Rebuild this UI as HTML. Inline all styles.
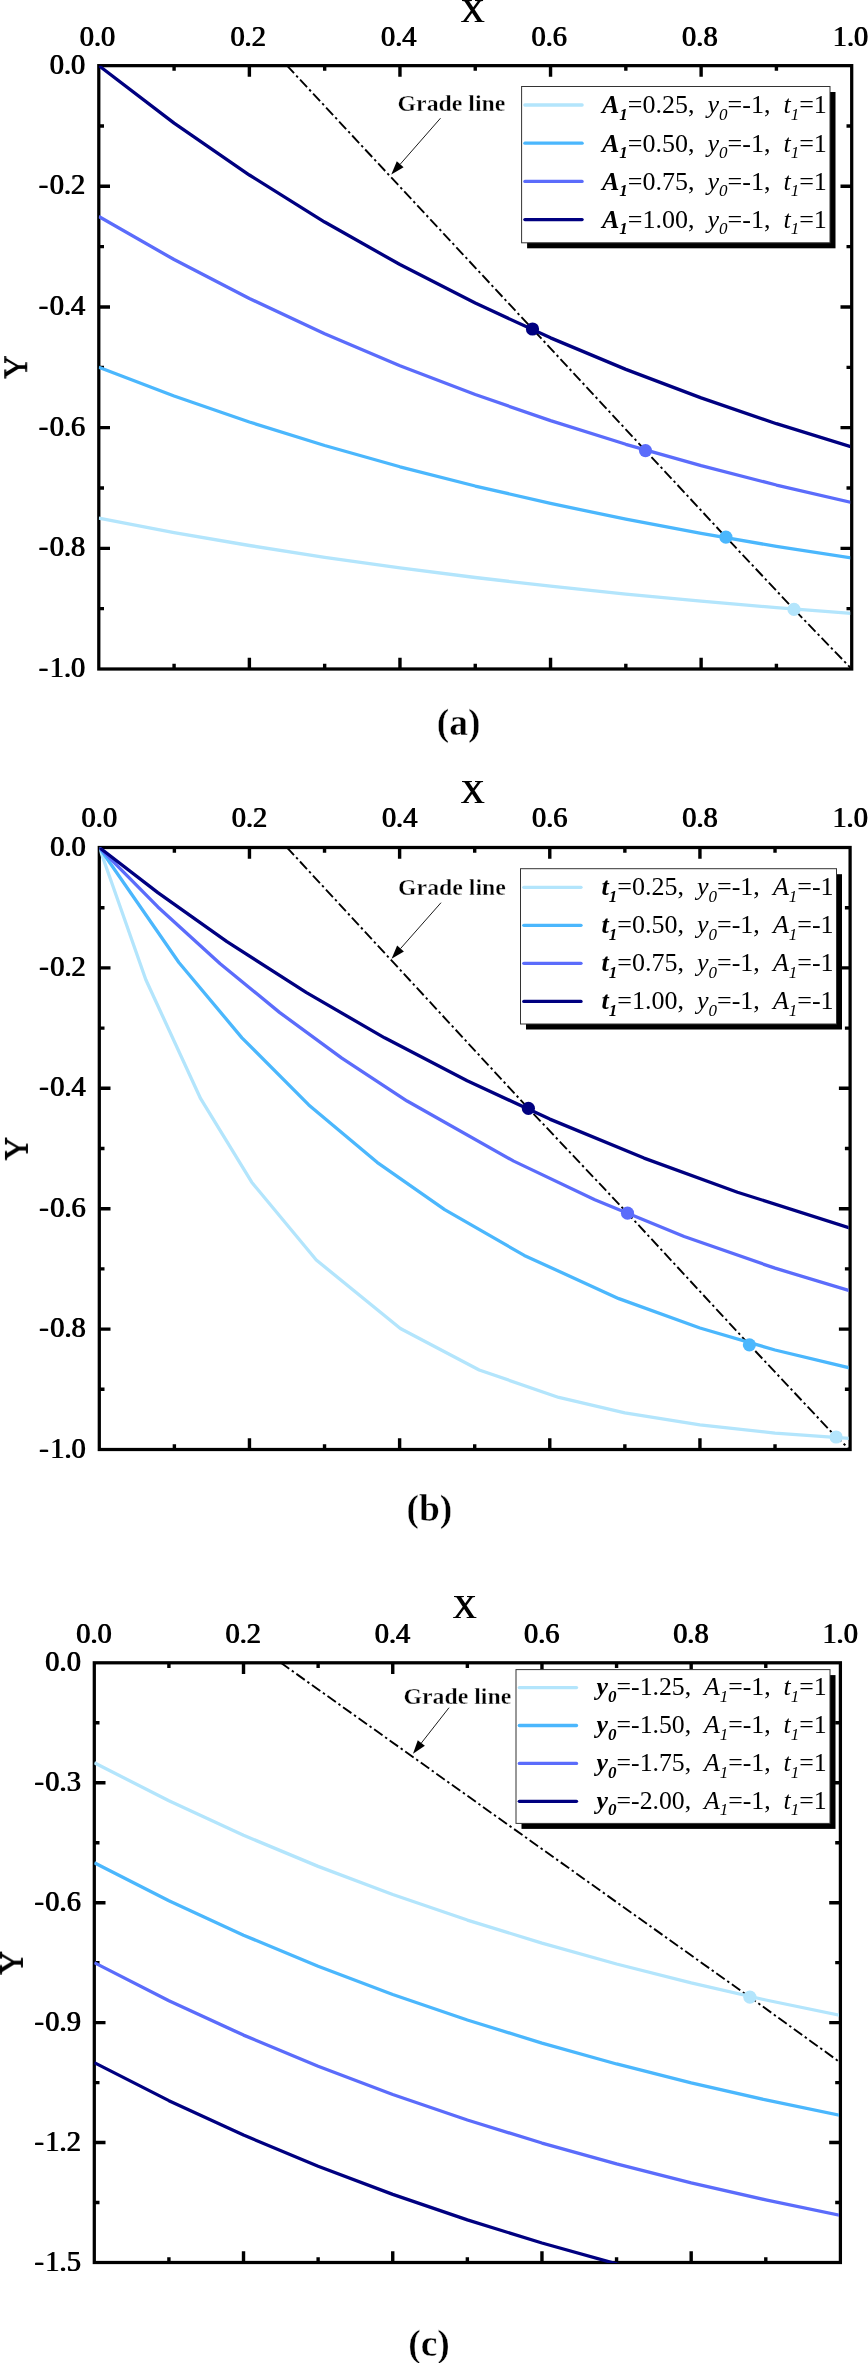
<!DOCTYPE html>
<html><head><meta charset="utf-8"><title>Figure</title>
<style>
html,body{margin:0;padding:0;background:#fff;}
svg{display:block;font-family:"Liberation Serif", "DejaVu Serif", serif;}
text{fill:#000;}
</style></head><body>
<svg width="868" height="2363" viewBox="0 0 868 2363">
<defs><filter id="fb" x="-2%" y="-2%" width="104%" height="104%"><feOffset dx="0.9" dy="0" result="o"/><feMerge><feMergeNode in="SourceGraphic"/><feMergeNode in="o"/></feMerge></filter></defs>
<rect width="868" height="2363" fill="#fff"/>
<g>
<clipPath id="clipa"><rect x="98.8" y="65.65" width="751.4" height="603.95"/></clipPath>
<path d="M287.03 65.65 L532.5 329 L645.5 450.6 L725.9 537.1 L794 609.4 L851.7 669" fill="none" stroke="#000" stroke-width="1.9" stroke-dasharray="10.3 3.2 2.4 3.2" clip-path="url(#clipa)"/>
<rect x="98.8" y="65.65" width="752.9" height="603.35" fill="none" stroke="#000" stroke-width="3.25"/>
<path d="M174.09 65.65v5.2M174.09 669v-5.2M249.38 65.65v11.2M249.38 669v-11.2M324.67 65.65v5.2M324.67 669v-5.2M399.96 65.65v11.2M399.96 669v-11.2M475.25 65.65v5.2M475.25 669v-5.2M550.54 65.65v11.2M550.54 669v-11.2M625.83 65.65v5.2M625.83 669v-5.2M701.12 65.65v11.2M701.12 669v-11.2M776.41 65.65v5.2M776.41 669v-5.2M98.8 125.99h5.2M851.7 125.99h-5.2M98.8 186.32h11.2M851.7 186.32h-11.2M98.8 246.66h5.2M851.7 246.66h-5.2M98.8 306.99h11.2M851.7 306.99h-11.2M98.8 367.33h5.2M851.7 367.33h-5.2M98.8 427.66h11.2M851.7 427.66h-11.2M98.8 488h5.2M851.7 488h-5.2M98.8 548.33h11.2M851.7 548.33h-11.2M98.8 608.66h5.2M851.7 608.66h-5.2" stroke="#000" stroke-width="3.4" fill="none"/>
<path d="M98.8 518.16 L174.09 532.52 L249.38 545.5 L324.67 557.26 L399.96 567.89 L475.25 577.51 L550.54 586.22 L625.83 594.1 L701.12 601.22 L776.41 607.67 L851.7 613.51" fill="none" stroke="#b3e5fc" stroke-width="3.3" stroke-linejoin="round" clip-path="url(#clipa)"/>
<path d="M98.8 367.33 L174.09 396.03 L249.38 422.01 L324.67 445.51 L399.96 466.78 L475.25 486.02 L550.54 503.44 L625.83 519.19 L701.12 533.45 L776.41 546.35 L851.7 558.02" fill="none" stroke="#4bb7fd" stroke-width="3.3" stroke-linejoin="round" clip-path="url(#clipa)"/>
<path d="M98.8 216.49 L174.09 259.55 L249.38 298.51 L324.67 333.77 L399.96 365.67 L475.25 394.54 L550.54 420.66 L625.83 444.29 L701.12 465.67 L776.41 485.02 L851.7 502.53" fill="none" stroke="#5b6cfb" stroke-width="3.3" stroke-linejoin="round" clip-path="url(#clipa)"/>
<path d="M98.8 65.65 L174.09 123.07 L249.38 175.02 L324.67 222.03 L399.96 264.56 L475.25 303.05 L550.54 337.87 L625.83 369.39 L701.12 397.9 L776.41 423.7 L851.7 447.04" fill="none" stroke="#000080" stroke-width="3.3" stroke-linejoin="round" clip-path="url(#clipa)"/>
<circle cx="794" cy="609.4" r="6.6" fill="#b3e5fc"/>
<circle cx="725.9" cy="537.1" r="6.6" fill="#4bb7fd"/>
<circle cx="645.5" cy="450.6" r="6.6" fill="#5b6cfb"/>
<circle cx="532.5" cy="329" r="6.6" fill="#000080"/>
<g filter="url(#fb)" transform="translate(-0.45 0)">
<text x="97.5" y="45.75" font-size="28.4"  text-anchor="middle">0.0</text>
<text x="248.08" y="45.75" font-size="28.4"  text-anchor="middle">0.2</text>
<text x="398.66" y="45.75" font-size="28.4"  text-anchor="middle">0.4</text>
<text x="549.24" y="45.75" font-size="28.4"  text-anchor="middle">0.6</text>
<text x="699.82" y="45.75" font-size="28.4"  text-anchor="middle">0.8</text>
<text x="850.4" y="45.75" font-size="28.4"  text-anchor="middle">1.0</text>
<text x="85.2" y="73.65" font-size="28.4"  text-anchor="end">0.0</text>
<text x="85.2" y="194.32" font-size="28.4"  text-anchor="end"><tspan letter-spacing="1.5">-</tspan>0.2</text>
<text x="85.2" y="314.99" font-size="28.4"  text-anchor="end"><tspan letter-spacing="1.5">-</tspan>0.4</text>
<text x="85.2" y="435.66" font-size="28.4"  text-anchor="end"><tspan letter-spacing="1.5">-</tspan>0.6</text>
<text x="85.2" y="556.33" font-size="28.4"  text-anchor="end"><tspan letter-spacing="1.5">-</tspan>0.8</text>
<text x="85.2" y="677" font-size="28.4"  text-anchor="end"><tspan letter-spacing="1.5">-</tspan>1.0</text>
<text x="472.5" y="21.7" font-size="33"  text-anchor="middle">X</text>
<text transform="translate(26.7 367) rotate(-90)" font-size="33"  text-anchor="middle">Y</text>
</g>
<text x="458.7" y="735.3" font-size="37.5" font-weight="bold" stroke="#fff" stroke-width="0.4" text-anchor="middle">(a)</text>
<text x="397.6" y="110.6" font-size="23.8" font-weight="bold" stroke="#fff" stroke-width="0.35">Grade line</text>
<line x1="440.5" y1="118.2" x2="400.19" y2="164.24" stroke="#000" stroke-width="0.9"/>
<polygon points="391.3,174.4 396.81,161.28 403.58,167.21" fill="#000"/>
<rect x="527.1" y="92" width="308.4" height="156.3" fill="#000"/>
<rect x="521.6" y="86.5" width="308.4" height="156.3" fill="#fff" stroke="#333" stroke-width="1"/>
<line x1="524.9" y1="105" x2="582.1" y2="105" stroke="#b3e5fc" stroke-width="3.3" stroke-linecap="round"/>
<line x1="524.9" y1="143.2" x2="582.1" y2="143.2" stroke="#4bb7fd" stroke-width="3.3" stroke-linecap="round"/>
<line x1="524.9" y1="181.4" x2="582.1" y2="181.4" stroke="#5b6cfb" stroke-width="3.3" stroke-linecap="round"/>
<line x1="524.9" y1="219.6" x2="582.1" y2="219.6" stroke="#000080" stroke-width="3.3" stroke-linecap="round"/>
<text x="602" y="113.3" font-size="26" xml:space="preserve"><tspan font-style="italic" font-weight="bold">A</tspan><tspan font-style="italic" font-weight="bold" font-size="17" dy="6.5">1</tspan><tspan dy="-6.5">=0.25,  </tspan><tspan font-style="italic">y</tspan><tspan font-style="italic" font-size="17" dy="6.5">0</tspan><tspan dy="-6.5">=-1,  </tspan><tspan font-style="italic">t</tspan><tspan font-style="italic" font-size="17" dy="6.5">1</tspan><tspan dy="-6.5">=1</tspan></text>
<text x="602" y="151.5" font-size="26" xml:space="preserve"><tspan font-style="italic" font-weight="bold">A</tspan><tspan font-style="italic" font-weight="bold" font-size="17" dy="6.5">1</tspan><tspan dy="-6.5">=0.50,  </tspan><tspan font-style="italic">y</tspan><tspan font-style="italic" font-size="17" dy="6.5">0</tspan><tspan dy="-6.5">=-1,  </tspan><tspan font-style="italic">t</tspan><tspan font-style="italic" font-size="17" dy="6.5">1</tspan><tspan dy="-6.5">=1</tspan></text>
<text x="602" y="189.7" font-size="26" xml:space="preserve"><tspan font-style="italic" font-weight="bold">A</tspan><tspan font-style="italic" font-weight="bold" font-size="17" dy="6.5">1</tspan><tspan dy="-6.5">=0.75,  </tspan><tspan font-style="italic">y</tspan><tspan font-style="italic" font-size="17" dy="6.5">0</tspan><tspan dy="-6.5">=-1,  </tspan><tspan font-style="italic">t</tspan><tspan font-style="italic" font-size="17" dy="6.5">1</tspan><tspan dy="-6.5">=1</tspan></text>
<text x="602" y="227.9" font-size="26" xml:space="preserve"><tspan font-style="italic" font-weight="bold">A</tspan><tspan font-style="italic" font-weight="bold" font-size="17" dy="6.5">1</tspan><tspan dy="-6.5">=1.00,  </tspan><tspan font-style="italic">y</tspan><tspan font-style="italic" font-size="17" dy="6.5">0</tspan><tspan dy="-6.5">=-1,  </tspan><tspan font-style="italic">t</tspan><tspan font-style="italic" font-size="17" dy="6.5">1</tspan><tspan dy="-6.5">=1</tspan></text>
</g>
<g>
<clipPath id="clipb"><rect x="99.3" y="847.5" width="749.3" height="602.6"/></clipPath>
<path d="M287 847.5 L528.4 1108.4 L627.5 1213.2 L749.4 1344.8 L836.1 1437 L850.1 1449.5" fill="none" stroke="#000" stroke-width="1.9" stroke-dasharray="10.3 3.2 2.4 3.2" clip-path="url(#clipb)"/>
<rect x="99.3" y="847.5" width="750.8" height="602" fill="none" stroke="#000" stroke-width="3.25"/>
<path d="M174.38 847.5v5.2M174.38 1449.5v-5.2M249.46 847.5v11.2M249.46 1449.5v-11.2M324.54 847.5v5.2M324.54 1449.5v-5.2M399.62 847.5v11.2M399.62 1449.5v-11.2M474.7 847.5v5.2M474.7 1449.5v-5.2M549.78 847.5v11.2M549.78 1449.5v-11.2M624.86 847.5v5.2M624.86 1449.5v-5.2M699.94 847.5v11.2M699.94 1449.5v-11.2M775.02 847.5v5.2M775.02 1449.5v-5.2M99.3 907.7h5.2M850.1 907.7h-5.2M99.3 967.9h11.2M850.1 967.9h-11.2M99.3 1028.1h5.2M850.1 1028.1h-5.2M99.3 1088.3h11.2M850.1 1088.3h-11.2M99.3 1148.5h5.2M850.1 1148.5h-5.2M99.3 1208.7h11.2M850.1 1208.7h-11.2M99.3 1268.9h5.2M850.1 1268.9h-5.2M99.3 1329.1h11.2M850.1 1329.1h-11.2M99.3 1389.3h5.2M850.1 1389.3h-5.2" stroke="#000" stroke-width="3.4" fill="none"/>
<path d="M99.3 847.5 L145.85 979.72 L200.66 1098.69 L251.71 1182.23 L316.28 1260.02 L400.37 1328.44 L479.2 1369.96 L558.79 1397.45 L624.86 1412.89 L699.94 1424.96 L775.02 1433.05 L850.1 1438.47" fill="none" stroke="#b3e5fc" stroke-width="3.3" stroke-linejoin="round" clip-path="url(#clipb)"/>
<path d="M99.3 847.5 L178.88 962.5 L241.95 1037.82 L308.77 1104.94 L377.1 1162.28 L444.67 1209.59 L524.25 1255.42 L618.85 1298.65 L699.94 1327.96 L775.02 1349.99 L850.1 1368.03" fill="none" stroke="#4bb7fd" stroke-width="3.3" stroke-linejoin="round" clip-path="url(#clipb)"/>
<path d="M99.3 847.5 L157.86 906.96 L220.18 963.8 L279.49 1012.36 L341.81 1058.15 L407.13 1101.02 L513.74 1161.13 L594.83 1199.8 L684.17 1236.44 L775.02 1268.18 L850.1 1290.81" fill="none" stroke="#5b6cfb" stroke-width="3.3" stroke-linejoin="round" clip-path="url(#clipb)"/>
<path d="M99.3 847.5 L157.86 892.67 L226.94 941.61 L306.52 992.69 L384.6 1037.82 L467.19 1080.7 L549.78 1119.12 L644.01 1158.08 L737.48 1192.2 L850.1 1228.04" fill="none" stroke="#000080" stroke-width="3.3" stroke-linejoin="round" clip-path="url(#clipb)"/>
<circle cx="836.1" cy="1437" r="6.6" fill="#b3e5fc"/>
<circle cx="749.4" cy="1344.8" r="6.6" fill="#4bb7fd"/>
<circle cx="627.5" cy="1213.2" r="6.6" fill="#5b6cfb"/>
<circle cx="528.4" cy="1108.4" r="6.6" fill="#000080"/>
<g filter="url(#fb)" transform="translate(-0.45 0)">
<text x="99.3" y="827.4" font-size="28.4"  text-anchor="middle">0.0</text>
<text x="249.46" y="827.4" font-size="28.4"  text-anchor="middle">0.2</text>
<text x="399.62" y="827.4" font-size="28.4"  text-anchor="middle">0.4</text>
<text x="549.78" y="827.4" font-size="28.4"  text-anchor="middle">0.6</text>
<text x="699.94" y="827.4" font-size="28.4"  text-anchor="middle">0.8</text>
<text x="850.1" y="827.4" font-size="28.4"  text-anchor="middle">1.0</text>
<text x="85.7" y="855.5" font-size="28.4"  text-anchor="end">0.0</text>
<text x="85.7" y="975.9" font-size="28.4"  text-anchor="end"><tspan letter-spacing="1.5">-</tspan>0.2</text>
<text x="85.7" y="1096.3" font-size="28.4"  text-anchor="end"><tspan letter-spacing="1.5">-</tspan>0.4</text>
<text x="85.7" y="1216.7" font-size="28.4"  text-anchor="end"><tspan letter-spacing="1.5">-</tspan>0.6</text>
<text x="85.7" y="1337.1" font-size="28.4"  text-anchor="end"><tspan letter-spacing="1.5">-</tspan>0.8</text>
<text x="85.7" y="1457.5" font-size="28.4"  text-anchor="end"><tspan letter-spacing="1.5">-</tspan>1.0</text>
<text x="472.5" y="802.7" font-size="33"  text-anchor="middle">X</text>
<text transform="translate(27.4 1148.5) rotate(-90)" font-size="33"  text-anchor="middle">Y</text>
</g>
<text x="429.4" y="1521.2" font-size="37.5" font-weight="bold" stroke="#fff" stroke-width="0.4" text-anchor="middle">(b)</text>
<text x="398.1" y="894.7" font-size="23.8" font-weight="bold" stroke="#fff" stroke-width="0.35">Grade line</text>
<line x1="441" y1="902.7" x2="400.53" y2="948.58" stroke="#000" stroke-width="0.9"/>
<polygon points="391.6,958.7 397.16,945.6 403.91,951.55" fill="#000"/>
<rect x="526" y="874.2" width="316" height="155.3" fill="#000"/>
<rect x="520.5" y="868.7" width="316" height="155.3" fill="#fff" stroke="#333" stroke-width="1"/>
<line x1="523.8" y1="887.3" x2="581" y2="887.3" stroke="#b3e5fc" stroke-width="3.3" stroke-linecap="round"/>
<line x1="523.8" y1="925.33" x2="581" y2="925.33" stroke="#4bb7fd" stroke-width="3.3" stroke-linecap="round"/>
<line x1="523.8" y1="963.36" x2="581" y2="963.36" stroke="#5b6cfb" stroke-width="3.3" stroke-linecap="round"/>
<line x1="523.8" y1="1001.39" x2="581" y2="1001.39" stroke="#000080" stroke-width="3.3" stroke-linecap="round"/>
<text x="601.6" y="895.1" font-size="26" xml:space="preserve"><tspan font-style="italic" font-weight="bold">t</tspan><tspan font-style="italic" font-weight="bold" font-size="17" dy="6.5">1</tspan><tspan dy="-6.5">=0.25,  </tspan><tspan font-style="italic">y</tspan><tspan font-style="italic" font-size="17" dy="6.5">0</tspan><tspan dy="-6.5">=-1,  </tspan><tspan font-style="italic">A</tspan><tspan font-style="italic" font-size="17" dy="6.5">1</tspan><tspan dy="-6.5">=-1</tspan></text>
<text x="601.6" y="933.13" font-size="26" xml:space="preserve"><tspan font-style="italic" font-weight="bold">t</tspan><tspan font-style="italic" font-weight="bold" font-size="17" dy="6.5">1</tspan><tspan dy="-6.5">=0.50,  </tspan><tspan font-style="italic">y</tspan><tspan font-style="italic" font-size="17" dy="6.5">0</tspan><tspan dy="-6.5">=-1,  </tspan><tspan font-style="italic">A</tspan><tspan font-style="italic" font-size="17" dy="6.5">1</tspan><tspan dy="-6.5">=-1</tspan></text>
<text x="601.6" y="971.16" font-size="26" xml:space="preserve"><tspan font-style="italic" font-weight="bold">t</tspan><tspan font-style="italic" font-weight="bold" font-size="17" dy="6.5">1</tspan><tspan dy="-6.5">=0.75,  </tspan><tspan font-style="italic">y</tspan><tspan font-style="italic" font-size="17" dy="6.5">0</tspan><tspan dy="-6.5">=-1,  </tspan><tspan font-style="italic">A</tspan><tspan font-style="italic" font-size="17" dy="6.5">1</tspan><tspan dy="-6.5">=-1</tspan></text>
<text x="601.6" y="1009.19" font-size="26" xml:space="preserve"><tspan font-style="italic" font-weight="bold">t</tspan><tspan font-style="italic" font-weight="bold" font-size="17" dy="6.5">1</tspan><tspan dy="-6.5">=1.00,  </tspan><tspan font-style="italic">y</tspan><tspan font-style="italic" font-size="17" dy="6.5">0</tspan><tspan dy="-6.5">=-1,  </tspan><tspan font-style="italic">A</tspan><tspan font-style="italic" font-size="17" dy="6.5">1</tspan><tspan dy="-6.5">=-1</tspan></text>
</g>
<g>
<clipPath id="clipc"><rect x="94.3" y="1662.8" width="744.6" height="600.3"/></clipPath>
<path d="M280.82 1662.8 L749.9 1997.2 L840.4 2062.6" fill="none" stroke="#000" stroke-width="1.9" stroke-dasharray="10.3 3.2 2.4 3.2" clip-path="url(#clipc)"/>
<rect x="94.3" y="1662.8" width="746.1" height="599.7" fill="none" stroke="#000" stroke-width="3.25"/>
<path d="M168.91 1662.8v5.2M168.91 2262.5v-5.2M243.52 1662.8v11.2M243.52 2262.5v-11.2M318.13 1662.8v5.2M318.13 2262.5v-5.2M392.74 1662.8v11.2M392.74 2262.5v-11.2M467.35 1662.8v5.2M467.35 2262.5v-5.2M541.96 1662.8v11.2M541.96 2262.5v-11.2M616.57 1662.8v5.2M616.57 2262.5v-5.2M691.18 1662.8v11.2M691.18 2262.5v-11.2M765.79 1662.8v5.2M765.79 2262.5v-5.2M94.3 1722.77h5.2M840.4 1722.77h-5.2M94.3 1782.74h11.2M840.4 1782.74h-11.2M94.3 1842.71h5.2M840.4 1842.71h-5.2M94.3 1902.68h11.2M840.4 1902.68h-11.2M94.3 1962.65h5.2M840.4 1962.65h-5.2M94.3 2022.62h11.2M840.4 2022.62h-11.2M94.3 2082.59h5.2M840.4 2082.59h-5.2M94.3 2142.56h11.2M840.4 2142.56h-11.2M94.3 2202.53h5.2M840.4 2202.53h-5.2" stroke="#000" stroke-width="3.4" fill="none"/>
<path d="M94.3 1762.75 L168.91 1800.8 L243.52 1835.22 L318.13 1866.37 L392.74 1894.56 L467.35 1920.06 L541.96 1943.14 L616.57 1964.02 L691.18 1982.91 L765.79 2000 L840.4 2015.47" fill="none" stroke="#b3e5fc" stroke-width="3.3" stroke-linejoin="round" clip-path="url(#clipc)"/>
<path d="M94.3 1862.7 L168.91 1900.75 L243.52 1935.17 L318.13 1966.32 L392.74 1994.51 L467.35 2020.01 L541.96 2043.09 L616.57 2063.97 L691.18 2082.86 L765.79 2099.95 L840.4 2115.42" fill="none" stroke="#4bb7fd" stroke-width="3.3" stroke-linejoin="round" clip-path="url(#clipc)"/>
<path d="M94.3 1962.65 L168.91 2000.7 L243.52 2035.12 L318.13 2066.27 L392.74 2094.46 L467.35 2119.96 L541.96 2143.04 L616.57 2163.92 L691.18 2182.81 L765.79 2199.9 L840.4 2215.37" fill="none" stroke="#5b6cfb" stroke-width="3.3" stroke-linejoin="round" clip-path="url(#clipc)"/>
<path d="M94.3 2062.6 L168.91 2100.65 L243.52 2135.07 L318.13 2166.22 L392.74 2194.41 L467.35 2219.91 L541.96 2242.99 L616.57 2263.87 L691.18 2282.76 L765.79 2299.85 L840.4 2315.32" fill="none" stroke="#000080" stroke-width="3.3" stroke-linejoin="round" clip-path="url(#clipc)"/>
<circle cx="749.9" cy="1997.2" r="6.6" fill="#b3e5fc"/>
<g filter="url(#fb)" transform="translate(-0.45 0)">
<text x="94" y="1643" font-size="28.4"  text-anchor="middle">0.0</text>
<text x="243.22" y="1643" font-size="28.4"  text-anchor="middle">0.2</text>
<text x="392.44" y="1643" font-size="28.4"  text-anchor="middle">0.4</text>
<text x="541.66" y="1643" font-size="28.4"  text-anchor="middle">0.6</text>
<text x="690.88" y="1643" font-size="28.4"  text-anchor="middle">0.8</text>
<text x="840.1" y="1643" font-size="28.4"  text-anchor="middle">1.0</text>
<text x="80.8" y="1670.8" font-size="28.4"  text-anchor="end">0.0</text>
<text x="80.8" y="1790.74" font-size="28.4"  text-anchor="end"><tspan letter-spacing="1.5">-</tspan>0.3</text>
<text x="80.8" y="1910.68" font-size="28.4"  text-anchor="end"><tspan letter-spacing="1.5">-</tspan>0.6</text>
<text x="80.8" y="2030.62" font-size="28.4"  text-anchor="end"><tspan letter-spacing="1.5">-</tspan>0.9</text>
<text x="80.8" y="2150.56" font-size="28.4"  text-anchor="end"><tspan letter-spacing="1.5">-</tspan>1.2</text>
<text x="80.8" y="2270.5" font-size="28.4"  text-anchor="end"><tspan letter-spacing="1.5">-</tspan>1.5</text>
<text x="464.7" y="1618.4" font-size="33"  text-anchor="middle">X</text>
<text transform="translate(22.4 1962.6) rotate(-90)" font-size="33"  text-anchor="middle">Y</text>
</g>
<text x="429" y="2355.6" font-size="37.5" font-weight="bold" stroke="#fff" stroke-width="0.4" text-anchor="middle">(c)</text>
<text x="403.5" y="1703.7" font-size="23.8" font-weight="bold" stroke="#fff" stroke-width="0.35">Grade line</text>
<line x1="449" y1="1707.7" x2="421.32" y2="1743.07" stroke="#000" stroke-width="0.9"/>
<polygon points="413,1753.7 417.78,1740.3 424.86,1745.84" fill="#000"/>
<rect x="521.5" y="1675.1" width="314" height="153.8" fill="#000"/>
<rect x="516" y="1669.6" width="314" height="153.8" fill="#fff" stroke="#333" stroke-width="1"/>
<line x1="519.3" y1="1687.6" x2="576.5" y2="1687.6" stroke="#b3e5fc" stroke-width="3.3" stroke-linecap="round"/>
<line x1="519.3" y1="1725.5" x2="576.5" y2="1725.5" stroke="#4bb7fd" stroke-width="3.3" stroke-linecap="round"/>
<line x1="519.3" y1="1763.4" x2="576.5" y2="1763.4" stroke="#5b6cfb" stroke-width="3.3" stroke-linecap="round"/>
<line x1="519.3" y1="1801.3" x2="576.5" y2="1801.3" stroke="#000080" stroke-width="3.3" stroke-linecap="round"/>
<text x="596.6" y="1695.2" font-size="25.75" xml:space="preserve"><tspan font-style="italic" font-weight="bold">y</tspan><tspan font-style="italic" font-weight="bold" font-size="17" dy="6.5">0</tspan><tspan dy="-6.5">=-1.25,  </tspan><tspan font-style="italic">A</tspan><tspan font-style="italic" font-size="17" dy="6.5">1</tspan><tspan dy="-6.5">=-1,  </tspan><tspan font-style="italic">t</tspan><tspan font-style="italic" font-size="17" dy="6.5">1</tspan><tspan dy="-6.5">=1</tspan></text>
<text x="596.6" y="1733.1" font-size="25.75" xml:space="preserve"><tspan font-style="italic" font-weight="bold">y</tspan><tspan font-style="italic" font-weight="bold" font-size="17" dy="6.5">0</tspan><tspan dy="-6.5">=-1.50,  </tspan><tspan font-style="italic">A</tspan><tspan font-style="italic" font-size="17" dy="6.5">1</tspan><tspan dy="-6.5">=-1,  </tspan><tspan font-style="italic">t</tspan><tspan font-style="italic" font-size="17" dy="6.5">1</tspan><tspan dy="-6.5">=1</tspan></text>
<text x="596.6" y="1771" font-size="25.75" xml:space="preserve"><tspan font-style="italic" font-weight="bold">y</tspan><tspan font-style="italic" font-weight="bold" font-size="17" dy="6.5">0</tspan><tspan dy="-6.5">=-1.75,  </tspan><tspan font-style="italic">A</tspan><tspan font-style="italic" font-size="17" dy="6.5">1</tspan><tspan dy="-6.5">=-1,  </tspan><tspan font-style="italic">t</tspan><tspan font-style="italic" font-size="17" dy="6.5">1</tspan><tspan dy="-6.5">=1</tspan></text>
<text x="596.6" y="1808.9" font-size="25.75" xml:space="preserve"><tspan font-style="italic" font-weight="bold">y</tspan><tspan font-style="italic" font-weight="bold" font-size="17" dy="6.5">0</tspan><tspan dy="-6.5">=-2.00,  </tspan><tspan font-style="italic">A</tspan><tspan font-style="italic" font-size="17" dy="6.5">1</tspan><tspan dy="-6.5">=-1,  </tspan><tspan font-style="italic">t</tspan><tspan font-style="italic" font-size="17" dy="6.5">1</tspan><tspan dy="-6.5">=1</tspan></text>
</g>
</svg>
</body></html>
